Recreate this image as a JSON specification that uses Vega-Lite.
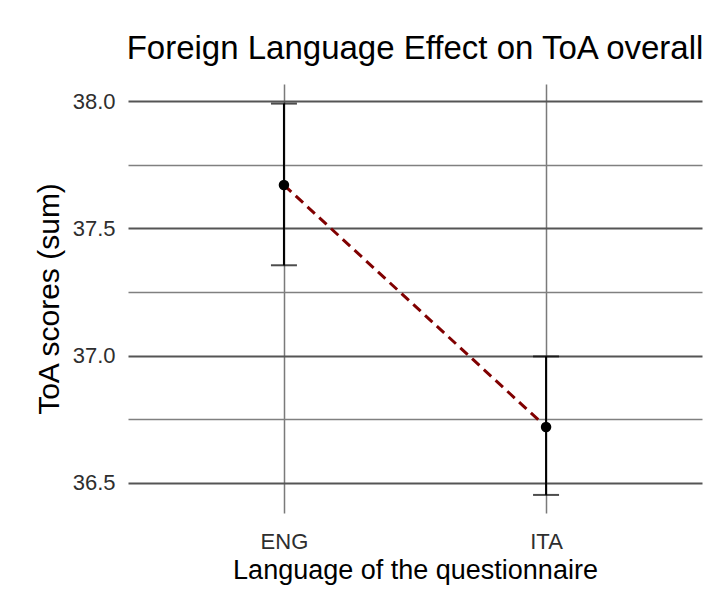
{
  "$schema": "https://vega.github.io/schema/vega-lite/v6.json",
  "autosize": {"type": "none"},
  "padding": {"left": 128, "top": 84, "right": 12, "bottom": 95},
  "width": 574,
  "height": 429,
  "background": "white",
  "config": {
    "view": {"stroke": null},
    "font": "Liberation Sans"
  },
  "title": {
    "text": "Foreign Language Effect on ToA overall",
    "fontSize": 33,
    "font": "Liberation Sans",
    "fontWeight": "normal",
    "color": "black",
    "anchor": "middle",
    "offset": 18
  },
  "data": {
    "values": [
      {"lang": "ENG", "mean": 37.67, "lower": 37.355, "upper": 37.99},
      {"lang": "ITA", "mean": 36.72, "lower": 36.453, "upper": 36.997}
    ]
  },
  "encoding": {
    "x": {
      "field": "lang",
      "type": "nominal",
      "scale": {"type": "point", "padding": 0.595},
      "axis": {
        "title": "Language of the questionnaire",
        "titleFontSize": 27,
        "titleFontWeight": "normal",
        "titleColor": "black",
        "titlePadding": 5,
        "labelAngle": 0,
        "labelFontSize": 22,
        "labelColor": "#2e2e2e",
        "labelPadding": 18,
        "ticks": false,
        "domain": false,
        "grid": true,
        "gridColor": "#7a7a7a",
        "gridWidth": 1.5
      }
    }
  },
  "layer": [
    {
      "mark": {"type": "rule", "color": "black", "strokeWidth": 2},
      "encoding": {
        "y": {
          "field": "lower",
          "type": "quantitative",
          "scale": {"domain": [36.382, 38.067], "nice": false, "zero": false},
          "axis": {
            "title": "ToA scores (sum)",
            "titleFontSize": 30,
            "titleFontWeight": "normal",
            "titleColor": "black",
            "titlePadding": 8,
            "values": [36.5, 36.75, 37.0, 37.25, 37.5, 37.75, 38.0],
            "labelExpr": "datum.value % 0.5 === 0 ? format(datum.value, '.1f') : ''",
            "labelFontSize": 22,
            "labelColor": "#2e2e2e",
            "labelPadding": 13,
            "ticks": false,
            "domain": false,
            "grid": true,
            "gridColor": {"condition": {"test": "datum.value % 0.5 === 0", "value": "#555555"}, "value": "#808080"},
            "gridWidth": {"condition": {"test": "datum.value % 0.5 === 0", "value": 2}, "value": 1.3}
          }
        },
        "y2": {"field": "upper"}
      }
    },
    {
      "mark": {"type": "tick", "color": "black", "size": 26, "thickness": 2},
      "encoding": {"y": {"field": "upper", "type": "quantitative"}}
    },
    {
      "mark": {"type": "tick", "color": "black", "size": 26, "thickness": 2},
      "encoding": {"y": {"field": "lower", "type": "quantitative"}}
    },
    {
      "mark": {"type": "line", "color": "#800000", "strokeWidth": 3, "strokeDash": [10, 6]},
      "encoding": {"y": {"field": "mean", "type": "quantitative"}}
    },
    {
      "mark": {"type": "point", "filled": true, "color": "black", "size": 110, "opacity": 1},
      "encoding": {"y": {"field": "mean", "type": "quantitative"}}
    }
  ]
}
